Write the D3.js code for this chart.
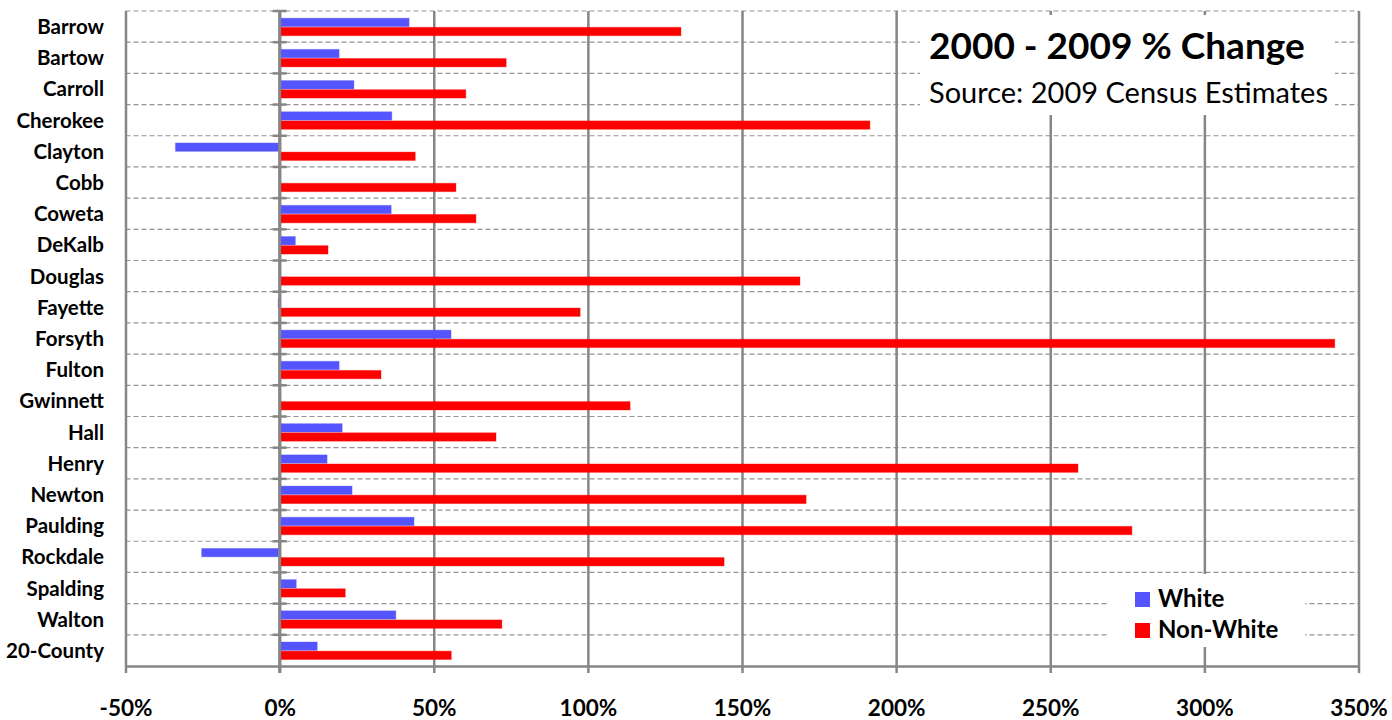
<!DOCTYPE html>
<html>
<head>
<meta charset="utf-8">
<script src="https://cdn.jsdelivr.net/npm/d3@7"></script>
<style>
  body { margin: 0; background: #fff; }
  svg { display: block; font-family: Lato, "Liberation Sans", sans-serif; }
</style>
</head>
<body>
<svg id="chart" width="1392" height="720"></svg>
<script>
// ─── data (% change 2000-2009) ───
const counties = ['Barrow', 'Bartow', 'Carroll', 'Cherokee', 'Clayton', 'Cobb', 'Coweta', 'DeKalb',
  'Douglas', 'Fayette', 'Forsyth', 'Fulton', 'Gwinnett', 'Hall', 'Henry', 'Newton', 'Paulding',
  'Rockdale', 'Spalding', 'Walton', '20-County'];
const whiteChange = [42.0, 19.3, 24.1, 36.4, -33.8, 0, 36.2, 5.1, 0, -0.5, 55.6, 19.3, 0, 20.3,
  15.4, 23.5, 43.6, -25.3, 5.4, 37.7, 12.2];
const nonWhiteChange = [130.2, 73.5, 60.4, 191.5, 44.0, 57.2, 63.7, 15.7, 168.8, 97.5, 342.3, 32.9,
  113.7, 70.2, 259.0, 170.8, 276.5, 144.2, 21.3, 72.1, 55.7];
const xTicks = [-50, 0, 50, 100, 150, 200, 250, 300, 350];
const seriesNames = ['White', 'Non-White'];
const seriesColors = ['#5555ff', '#ff0000'];

const svg = d3.select('#chart');
const plot = { left: 125.5, right: 1358.5, top: 11, bottom: 666 };
const gridColor = '#868686';

const x = d3.scaleLinear().domain([-50, 350]).range([plot.left, plot.right]);
const rows = d3.scaleBand().domain(counties).range([plot.top, plot.bottom]);
const inner = d3.scaleBand().domain(seriesNames).range([7.2, 24.7]).paddingInner(0.08);

// dashed row separators
svg.append('g')
  .selectAll('line')
  .data(counties)
  .enter()
  .append('line')
  .attr('x1', plot.left).attr('x2', plot.right)
  .attr('y1', d => rows(d)).attr('y2', d => rows(d))
  .attr('stroke', '#949494')
  .attr('stroke-width', 1.2)
  .attr('stroke-dasharray', '5,3');

// vertical gridlines (run down past the axis as tick marks)
const grid = svg.append('g')
  .attr('transform', `translate(0,${plot.top})`)
  .call(d3.axisBottom(x).tickValues(xTicks).tickSize(plot.bottom - plot.top + 7).tickFormat(''));
grid.select('.domain').remove();
grid.selectAll('.tick line').attr('stroke', gridColor).attr('stroke-width', 2.5);

// bars
const series = [whiteChange, nonWhiteChange];
const groups = svg.append('g')
  .selectAll('g')
  .data(counties)
  .enter()
  .append('g')
  .attr('transform', d => `translate(0,${rows(d)})`);

groups.selectAll('rect')
  .data((d, i) => seriesNames.map((s, j) => ({ s, v: series[j][i], color: seriesColors[j] })))
  .enter()
  .append('rect')
  .attr('x', d => x(Math.min(0, d.v)))
  .attr('width', d => Math.abs(x(d.v) - x(0)))
  .attr('y', d => inner(d.s))
  .attr('height', inner.bandwidth())
  .attr('fill', d => d.color)
  .attr('stroke', d => d.color)
  .attr('stroke-opacity', 0.35)
  .attr('stroke-width', 1);

// zero axis with its little cross ticks
svg.append('line')
  .attr('x1', x(0)).attr('x2', x(0))
  .attr('y1', plot.top).attr('y2', plot.bottom + 7)
  .attr('stroke', gridColor).attr('stroke-width', 3);

svg.append('g')
  .selectAll('line')
  .data(counties)
  .enter()
  .append('line')
  .attr('x1', x(0) - 7).attr('x2', x(0) + 7)
  .attr('y1', d => rows(d)).attr('y2', d => rows(d))
  .attr('stroke', gridColor).attr('stroke-width', 2.5);

// bottom axis with labels
const xAxis = svg.append('g')
  .attr('transform', `translate(0,${plot.bottom})`)
  .call(d3.axisBottom(x).tickValues(xTicks).tickSize(0).tickSizeOuter(0).tickFormat(d => d + '%'));
xAxis.select('.domain').attr('stroke', gridColor).attr('stroke-width', 2.5);
xAxis.selectAll('text')
  .attr('y', 50).attr('dy', null)
  .attr('fill', '#000')
  .style('font-family', 'Lato, sans-serif')
  .style('font-size', '22.5px')
  .style('font-weight', 700);

// county labels
svg.append('g')
  .selectAll('text')
  .data(counties)
  .enter()
  .append('text')
  .attr('x', 104)
  .attr('y', d => rows(d) + rows.bandwidth() / 2 - 0.5)
  .attr('text-anchor', 'end')
  .attr('dominant-baseline', 'central')
  .attr('font-size', 20.5)
  .attr('font-weight', 700)
  .text(d => d);

// title box
svg.append('rect')
  .attr('x', 920).attr('y', 15).attr('width', 415).attr('height', 100)
  .attr('fill', '#fff');
svg.append('text')
  .attr('x', 929).attr('y', 59)
  .attr('font-size', 37).attr('font-weight', 700)
  .text('2000 - 2009 % Change');
svg.append('text')
  .attr('x', 929).attr('y', 103)
  .attr('font-size', 29)
  .text('Source: 2009 Census Estimates');

// legend
svg.append('rect')
  .attr('x', 1107).attr('y', 574).attr('width', 198).attr('height', 73)
  .attr('fill', '#fff');
const legend = svg.append('g')
  .selectAll('g')
  .data(seriesNames)
  .enter()
  .append('g')
  .attr('transform', (d, i) => `translate(1135,${592 + i * 31})`);
legend.append('rect')
  .attr('width', 15).attr('height', 15)
  .attr('fill', (d, i) => seriesColors[i]);
legend.append('text')
  .attr('x', 23).attr('y', 15)
  .attr('font-size', 24).attr('font-weight', 700)
  .text(d => d);
</script>
</body>
</html>
